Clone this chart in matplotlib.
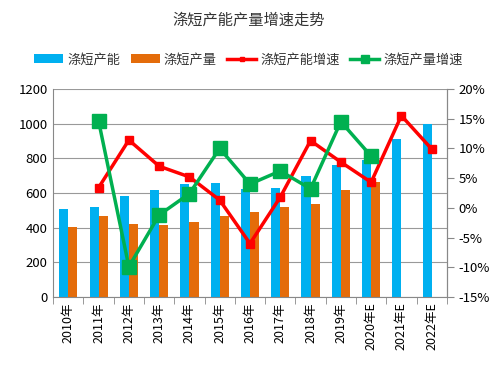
import numpy as np
import matplotlib
matplotlib.use("Agg")
import matplotlib.pyplot as plt

plt.rcParams['font.family'] = ['Noto Sans CJK SC', 'DejaVu Sans']

years = ["2010年", "2011年", "2012年", "2013年", "2014年", "2015年", "2016年",
         "2017年", "2018年", "2019年", "2020年E", "2021年E", "2022年E"]
capacity = [505, 520, 580, 620, 650, 660, 625, 630, 700, 760, 790, 910, 1000]
output = [405, 470, 420, 415, 430, 470, 490, 520, 535, 615, 665, None, None]
cap_growth = [None, 3.4, 11.4, 7.0, 5.2, 1.3, -6.0, 1.8, 11.3, 7.7, 4.3, 15.5, 9.9]
out_growth = [None, 14.6, -9.9, -1.2, 2.4, 10.0, 4.0, 6.2, 3.2, 14.5, 8.7, None, None]

x = np.arange(len(years))
out_vals = np.array([np.nan if v is None else v for v in output], dtype=float)
cg = np.array([np.nan if v is None else v for v in cap_growth], dtype=float)
og = np.array([np.nan if v is None else v for v in out_growth], dtype=float)

fig = plt.figure(figsize=(4.97, 3.69), dpi=100)
ax = fig.add_axes([0.107, 0.195, 0.792, 0.564])
ax2 = ax.twinx()

w = 0.3
ax.bar(x - w / 2, capacity, w, color="#00B0F0", label="涤短产能", zorder=2)
ax.bar(x + w / 2, out_vals, w, color="#E46C0A", label="涤短产量", zorder=2)

ax2.plot(x, cg, color="#FF0000", lw=2.5, marker="s", ms=6, label="涤短产能增速")
ax2.plot(x, og, color="#00B050", lw=2.5, marker="s", ms=10, label="涤短产量增速")

ax.set_ylim(0, 1200)
ax.set_yticks(range(0, 1201, 200))
ax2.set_ylim(-15, 20)
ax2.set_yticks(range(-15, 21, 5))
ax2.set_yticklabels([f"{v}%" for v in range(-15, 21, 5)])
ax.set_xlim(-0.5, len(years) - 0.5)
ax.set_xticks(x)
ax.set_xticklabels(years, rotation=90)
ax.set_xticks(np.arange(-0.5, len(years), 1), minor=True)
ax.tick_params(axis="x", which="major", length=0, pad=4, labelsize=9)
ax.tick_params(axis="x", which="minor", length=5, color="#888888")
ax.tick_params(axis="y", length=0, labelsize=9.5, pad=4)
ax2.tick_params(axis="y", length=5, color="#888888", labelsize=9.5)

ax.grid(axis="y", color="#999999", lw=0.8, zorder=0)
ax.set_axisbelow(True)
for a in (ax, ax2):
    a.spines["top"].set_visible(False)
    a.spines["left"].set_color("#888888")
    a.spines["right"].set_color("#888888")
    a.spines["bottom"].set_color("#888888")
ax2.spines["left"].set_visible(False)
ax2.spines["bottom"].set_visible(False)

fig.text(0.5, 0.945, "涤短产能产量增速走势", ha="center", va="center",
         fontsize=11, color="#333333")
h1, l1 = ax.get_legend_handles_labels()
h2, l2 = ax2.get_legend_handles_labels()
fig.legend(h1 + h2, l1 + l2, loc="center", bbox_to_anchor=(0.5, 0.838), ncol=4,
           frameon=False, fontsize=9.5, handlelength=2.2, handletextpad=0.3,
           columnspacing=0.8, markerscale=0.6, labelcolor="#333333")

fig.savefig("out.png", dpi=100)
